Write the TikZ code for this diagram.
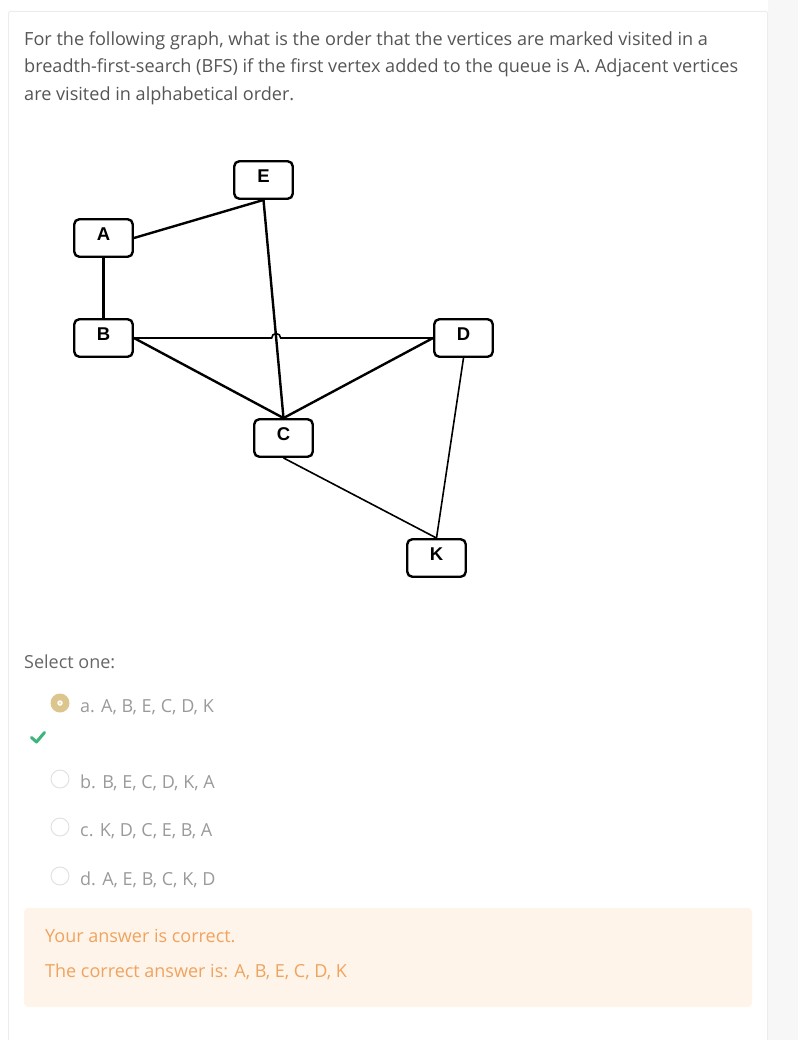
\documentclass[tikz,border=0pt]{standalone}
\usepackage{fontspec}
\setmainfont{Open Sans}
\newfontfamily\vertexfont{Liberation Sans}
\usepackage{xcolor}
\usetikzlibrary{calc, positioning}
\definecolor{qtext}{HTML}{555555}
\definecolor{opttext}{HTML}{9A9A9A}
\definecolor{panelline}{HTML}{ECECEC}
\definecolor{sidebar}{HTML}{F7F7F7}
\definecolor{radiofill}{HTML}{DCC68E}
\definecolor{radioline}{HTML}{E2E2E2}
\definecolor{tick}{HTML}{3DB57A}
\definecolor{feedfill}{HTML}{FEF4EA}
\definecolor{feedtext}{HTML}{F0A35E}
\tikzset{
    vertex/.style={draw, line width=2.4pt, rounded corners=5pt, minimum width=58.5pt, minimum height=37.5pt,
        inner sep=0pt, font=\vertexfont\bfseries\fontsize{18.5}{18.5}\selectfont, text height=13.3pt, text depth=8pt},
    edge/.style={line width=2.4pt},
    thinedge/.style={line width=1.6pt},
    radio/.style={circle, draw=radioline, fill=white, line width=1pt, minimum size=18pt, inner sep=0pt},
    qline/.style={anchor=base west, inner sep=0pt, text=qtext, font=\fontsize{18.1}{20}\selectfont},
    option/.style={anchor=base west, inner sep=0pt, text=opttext, font=\fontsize{18}{20}\selectfont},
    feedline/.style={anchor=base west, inner sep=0pt, text=feedtext, font=\fontsize{18}{20}\selectfont}
}
\begin{document}
\begin{tikzpicture}[x=1pt, y=-1pt]
                                \useasboundingbox (0,0) rectangle (798,1040);
                                \fill[sidebar] (768,0) rectangle (798,1040);
                                \draw[panelline, line width=1pt, rounded corners=2pt] (8.5,1045) -- (8.5,11.5) -- (767.5,11.5) -- (767.5,1045);
                                \node[qline] (q1) at (24,45.5) {For the following graph, what is the order that the vertices are marked visited in a};
                                \node[qline] (q2) at (24,73) {breadth-first-search (BFS) if the first vertex added to the queue is A. Adjacent vertices};
                                \node[qline] (q3) at (24,100.5) {are visited in alphabetical order.};
                                \node[vertex] (E) at (263.5,180) {E};
                                \node[vertex] (A) at (103.5,238) {A};
                                \node[vertex] (B) at (103.5,338) {B};
                                \node[vertex] (D) at (463.5,338) {D};
                                \node[vertex] (C) at (283.5,438) {C};
                                \node[vertex] (K) at (436.5,558) {K};
                                \draw[edge] (A.east) -- (E.south);
                                \draw[edge] (A.south) -- (B.north);
                                \draw[edge] (E.south) -- (C.north);
                                \draw[edge] (B.east) -- (C.north);
                                \draw[edge] (D.west) -- (C.north);
                                \draw[thinedge] (C.south) -- (K.north);
                                \draw[thinedge] (D.south) -- (K.north);
                                \coordinate (hop) at (intersection of B.east--D.west and E.south--C.north);
                                \draw[thinedge] (B.east) -- ([xshift=-4.5pt]hop) arc[start angle=180, end angle=0, radius=4.5pt] -- (D.west);
                                \node[anchor=base west, inner sep=0pt, text=qtext!90, font=\fontsize{18}{20}\selectfont] (select) at (24,668) {Select one:};
                                \node[radio, draw=none, fill=radiofill, minimum size=19pt] (ra) at (60,703) {};
                                \node[circle, fill=white, minimum size=5.5pt, inner sep=0pt] (radot) at (ra.center) {};
                                \node[circle, fill=radiofill, minimum size=1.8pt, inner sep=0pt] (racore) at (ra.center) {};
                                \node[option] (oa) at (80,712.5) {a. A, B, E, C, D, K};
                                \draw[tick, line width=3pt, line cap=round, line join=round] (31.5,737.5) -- (36.5,742) -- (44.5,732.5);
                                \node[radio] (rb) at (60,779) {};
                                \node[option] (ob) at (80,788) {b. B, E, C, D, K, A};
                                \node[radio] (rc) at (60,827) {};
                                \node[option] (oc) at (80,836) {c. K, D, C, E, B, A};
                                \node[radio] (rd) at (60,876) {};
                                \node[option] (od) at (80,885) {d. A, E, B, C, K, D};
                                \fill[feedfill, rounded corners=4pt] (24,908) rectangle (752,1007);
                                \node[feedline] (f1) at (45,942) {Your answer is correct.};
                                \node[feedline] (f2) at (45,977.5) {The correct answer is: A, B, E, C, D, K};
                            \end{tikzpicture}
\end{document}
